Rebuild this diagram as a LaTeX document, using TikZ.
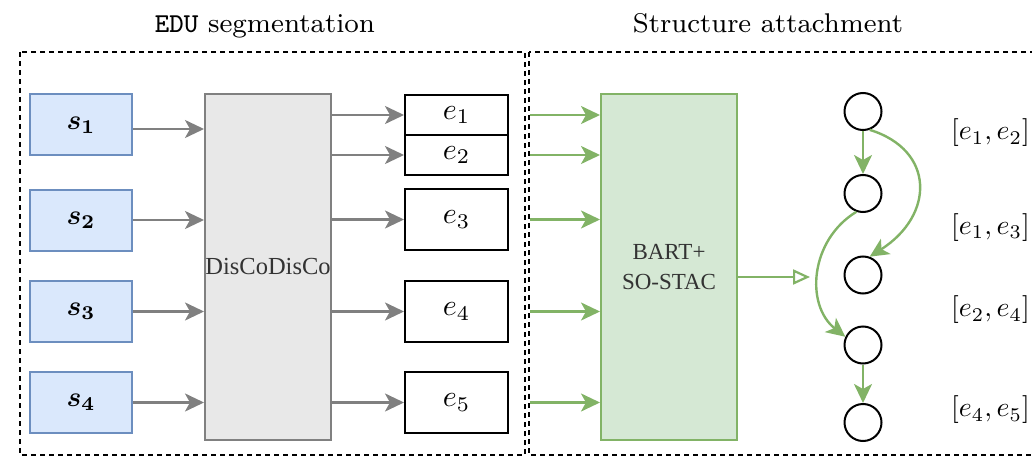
\RequirePackage{fix-cm}
\documentclass[tikz,border=0pt]{standalone}
\usepackage{fontspec}
\usepackage{graphicx}
\usepackage{amsmath,bm}
\usetikzlibrary{arrows.meta}
\newfontfamily\timesfont{Liberation Serif}

\definecolor{bluefill}{HTML}{DAE8FC}
\definecolor{blueline}{HTML}{6C8EBF}
\definecolor{greenfill}{HTML}{D5E8D4}
\definecolor{greenline}{HTML}{82B366}
\definecolor{grayline}{HTML}{808080}
\definecolor{grayfill}{HTML}{E8E8E8}
\definecolor{graytext}{HTML}{333333}

% math set at 10pt and enlarged, keeping the heavier 10pt design
\newcommand{\bigmath}[1]{\scalebox{3}{$#1$}}
\newcommand{\pairmath}[1]{\scalebox{2.78}{$#1$}}
\newcommand{\bigbold}[1]{\scalebox{2.8}{$\bm{#1}$}}

\tikzset{
  frame/.style={draw=black, line width=1.6pt, dash pattern=on 5pt off 4pt},
  title/.style={inner sep=0pt},
  sbox/.style={draw=blueline, fill=bluefill, line width=2pt, minimum width=102pt,
    minimum height=61pt, inner sep=0pt},
  discobox/.style={draw=grayline, fill=grayfill, line width=2pt, minimum width=126pt,
    minimum height=346pt, inner sep=0pt, text=graytext, font=\timesfont\fontsize{24.5}{28}\selectfont},
  ebox/.style={draw=black, fill=white, line width=2pt, minimum width=103pt,
    minimum height=61pt, inner sep=0pt},
  bartbox/.style={draw=greenline, fill=greenfill, line width=2pt, minimum width=136pt,
    minimum height=346pt, inner sep=0pt, align=center, text=graytext,
    font=\timesfont\fontsize{23}{30}\selectfont},
  vtx/.style={circle, draw=black, line width=2pt, minimum size=37pt, inner sep=0pt},
  pair/.style={anchor=west, inner sep=0pt},
  grayarrow/.style={draw=grayline, line width=2.4pt, -{Stealth[length=19pt,width=18pt,inset=5pt]}},
  greenarrow/.style={draw=greenline, line width=2.4pt, -{Stealth[length=19pt,width=18pt,inset=5pt]}},
  hollowarrow/.style={draw=greenline, line width=2.2pt, -{Triangle[open,length=17pt,width=15pt]}},
}

\begin{document}
\begin{tikzpicture}[x=1pt,y=-1pt]
\useasboundingbox (0,0) rectangle (1032,457);
\clip (0,0) rectangle (1032,457);

% the two dashed panels
\draw[frame] (20,52) rectangle (525,455);
\draw[frame] (529,52) rectangle (1045,455);

% panel headings
\node[title, anchor=base] (t1) at (265,33)
  {\resizebox{220pt}{!}{\fontsize{8}{9}\selectfont\texttt{EDU} segmentation}};
\node[title, anchor=base] (t2) at (768,33)
  {\resizebox{270pt}{!}{\fontsize{8}{9}\selectfont Structure attachment}};

% sentences
\node[sbox] (s1) at (81,125) {\bigbold{s_1}};
\node[sbox] (s2) at (81,220) {\bigbold{s_2}};
\node[sbox] (s3) at (81,311.5) {\bigbold{s_3}};
\node[sbox] (s4) at (81,402.5) {\bigbold{s_4}};

% segmenter
\node[discobox] (disco) at (268,267) {DisCoDisCo};

% EDUs
\node[ebox, minimum height=40pt] (e1) at (456.5,115) {\bigmath{e_1}};
\node[ebox, minimum height=40pt] (e2) at (456.5,155) {\bigmath{e_2}};
\node[ebox] (e3) at (456.5,219.5) {\bigmath{e_3}};
\node[ebox] (e4) at (456.5,311.5) {\bigmath{e_4}};
\node[ebox] (e5) at (456.5,402.5) {\bigmath{e_5}};

% parser
\node[bartbox] (bart) at (669,267) {BART+\\SO-STAC};

% discourse graph
\node[vtx] (c1) at (863,111.5) {};
\node[vtx] (c2) at (863,193.5) {};
\node[vtx] (c3) at (863,275) {};
\node[vtx] (c4) at (863,345) {};
\node[vtx] (c5) at (863,422.5) {};

\node[pair] (l1) at (951,133) {\pairmath{[e_1,e_2]}};
\node[pair] (l2) at (951,227.5) {\pairmath{[e_1,e_3]}};
\node[pair] (l3) at (951,310) {\pairmath{[e_2,e_4]}};
\node[pair] (l4) at (951,410) {\pairmath{[e_4,e_5]}};

% sentence -> segmenter
\draw[grayarrow] ([yshift=-4pt]s1.east) -- ([yshift=-4pt]s1.east -| disco.west);
\foreach \s in {s2,s3,s4}
  \draw[grayarrow] (\s.east) -- (\s.east -| disco.west);

% segmenter -> EDUs
\foreach \e in {e1,e2,e3,e4,e5}
  \draw[grayarrow] (\e.west -| disco.east) -- (\e.west);

% EDUs -> parser
\coordinate (split) at (530,0);
\foreach \e in {e1,e2,e3,e4,e5}
  \draw[greenarrow] (\e.west -| split) -- (\e.west -| bart.west);

% parser -> graph
\coordinate (tip) at (810,277);
\draw[hollowarrow] (bart.east |- tip) -- (tip);

% attachments
\draw[greenarrow] (c1) -- (c2);
\draw[greenarrow] (c4) -- (c5);
\draw[greenarrow] (c1.-70) .. controls (935,150) and (935,215) .. (c3.70);
\draw[greenarrow] (c2.-110) .. controls (810,240) and (805,305) .. (c4.155);
\end{tikzpicture}
\end{document}
